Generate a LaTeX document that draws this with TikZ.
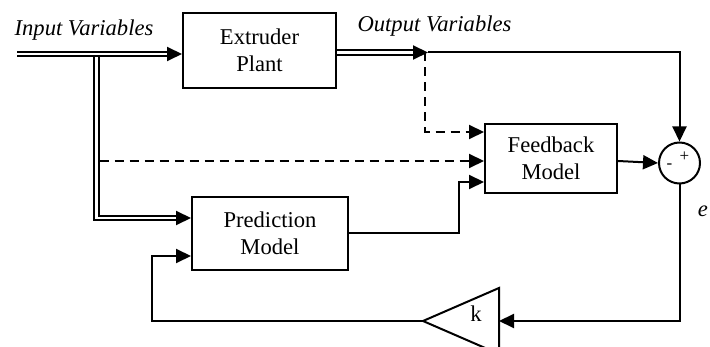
\documentclass[tikz,border=0pt]{standalone}
\usepackage{fontspec}
\setmainfont{Liberation Serif}
\usetikzlibrary{arrows.meta,calc}

\begin{document}
\begin{tikzpicture}[x=1pt,y=-1pt,
  every node/.style={font=\fontsize{22.6}{27}\selectfont},
  block/.style={draw,line width=2pt,align=center,inner sep=0pt},
  wire/.style={line width=2pt},
  dbl/.style={line width=1.8pt,double distance=2.8pt,shorten >=14pt},
  dsh/.style={wire,dash pattern=on 9pt off 6pt},
  tip/.style={-{Triangle[length=15pt,width=14pt]}},
  lbl/.style={font=\fontsize{22.6}{27}\selectfont\itshape}]
\useasboundingbox (0,0) rectangle (710,347);

% blocks
\node[block,minimum width=153pt,minimum height=75pt] (plant) at (259.5,50.5) {Extruder\\Plant};
\node[block,minimum width=156pt,minimum height=73pt] (pred) at (270,233.5) {Prediction\\Model};
\node[block,minimum width=132pt,minimum height=69pt] (fb) at (551,158.5) {Feedback\\Model};
\node[draw,circle,line width=2pt,minimum size=41pt,inner sep=0pt] (sum) at (679.5,163) {};
\node[font=\fontsize{17}{17}\selectfont,inner sep=0pt] (minus) at (669.5,166) {-};
\node[font=\fontsize{17}{17}\selectfont,inner sep=0pt] (plus) at (684.5,157) {+};

% gain triangle
\coordinate (gA) at (423,321);
\coordinate (gT) at (499,288);
\coordinate (gB) at (499,354);
\coordinate (gR) at (499,321);
\draw[wire,line join=miter] (gA) -- (gT) -- (gB) -- cycle;
\node (k) at (476,314) {k};

% labels
\node[lbl] (inlbl) at (84,30) {Input Variables};
\node[lbl] (outlbl) at (434.5,26) {Output Variables};
\node[lbl] (elbl) at (703,211) {e};

% helper points
\coordinate (in) at (17,54);
\coordinate (split) at (96.5,54);
\coordinate (pin) at ($(pred.west)+(0,-15.5)$);
\coordinate (plin) at ($(plant.west)+(0,3.5)$);
\coordinate (out) at (428,52.5);
\coordinate (tap) at (425,52.5);
\coordinate (dsrc) at (99.5,161);

% input bundle: branch to the prediction model, then main line to the plant
\draw[dbl] (split) |- (pin);
\draw[wire,tip] ($(pin)+(-15,0)$) -- (pin);
\draw[dbl] (in) -- (plin);
\draw[wire,tip] ($(plin)+(-15,0)$) -- (plin);

% output bundle
\draw[dbl] (plant.east |- out) -- (out);
\draw[wire,tip] ($(out)+(-15,0)$) -- (out);
\draw[wire,tip] (out) -| (sum.north);

% dashed measurements into the feedback model
\draw[dsh,tip] (tap) |- ($(fb.west)+(0,-26.5)$);
\draw[dsh,tip] (dsrc) -- ($(fb.west)+(0,2.5)$);

% prediction into feedback model
\draw[wire,tip] (pred.east) -- ++(110,0) |- ($(fb.west)+(0,23.5)$);

% feedback model to summing junction
\draw[wire,tip] ($(fb.east)+(0,2.5)$) -- (sum.west);

% error through gain back to the prediction model
\draw[wire,tip] (sum.south) |- (gR);
\draw[wire,tip] (gA) -| ($(pred.west)+(-39,22.5)$) -- ($(pred.west)+(0,22.5)$);
\end{tikzpicture}
\end{document}
